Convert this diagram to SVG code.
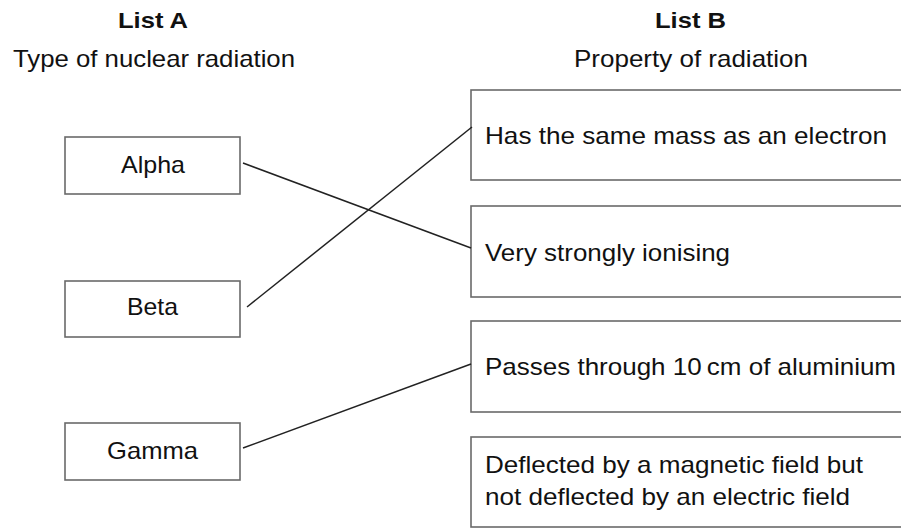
<svg xmlns="http://www.w3.org/2000/svg" width="901" height="528" viewBox="0 0 901 528">
<style>
.box{fill:#fff;stroke:#6a6a6a;stroke-width:1.6}
.t{font-family:"Liberation Sans",Arial,sans-serif;font-size:24px;fill:#111}
.h{font-family:"Liberation Sans",Arial,sans-serif;font-size:22px;font-weight:bold;fill:#111}
.c{stroke:#222;stroke-width:1.5;fill:none}
</style>
<rect width="901" height="528" fill="#fff"/>
<g id="headings">
<text class="h" x="118" y="28" textLength="70" lengthAdjust="spacingAndGlyphs">List A</text>
<text class="t" x="13" y="67" textLength="282" lengthAdjust="spacingAndGlyphs">Type of nuclear radiation</text>
<text class="h" x="655" y="28" textLength="71" lengthAdjust="spacingAndGlyphs">List B</text>
<text class="t" x="574" y="67" textLength="234" lengthAdjust="spacingAndGlyphs">Property of radiation</text>
</g>
<g id="alpha">
<rect class="box" x="65" y="137" width="175" height="57"/>
<text class="t" x="121" y="173" textLength="64" lengthAdjust="spacingAndGlyphs">Alpha</text>
</g>
<g id="beta">
<rect class="box" x="65" y="281" width="175" height="56"/>
<text class="t" x="127" y="315" textLength="51" lengthAdjust="spacingAndGlyphs">Beta</text>
</g>
<g id="gamma">
<rect class="box" x="65" y="423" width="175" height="57"/>
<text class="t" x="107" y="459" textLength="91" lengthAdjust="spacingAndGlyphs">Gamma</text>
</g>
<g id="prop1">
<rect class="box" x="471" y="90" width="450" height="90"/>
<text class="t" x="485" y="144" textLength="402" lengthAdjust="spacingAndGlyphs">Has the same mass as an electron</text>
</g>
<g id="prop2">
<rect class="box" x="471" y="206" width="450" height="91"/>
<text class="t" x="485" y="261" textLength="245" lengthAdjust="spacingAndGlyphs">Very strongly ionising</text>
</g>
<g id="prop3">
<rect class="box" x="471" y="321" width="450" height="91"/>
<text class="t" x="485" y="375" textLength="411" lengthAdjust="spacingAndGlyphs">Passes through 10&#8201;cm of aluminium</text>
</g>
<g id="prop4">
<rect class="box" x="471" y="437" width="450" height="90"/>
<text class="t" x="485" y="473" textLength="378" lengthAdjust="spacingAndGlyphs">Deflected by a magnetic field but</text>
<text class="t" x="485" y="505" textLength="365" lengthAdjust="spacingAndGlyphs">not deflected by an electric field</text>
</g>
<g id="connectors">
<line class="c" x1="243" y1="163" x2="471" y2="248"/>
<line class="c" x1="247" y1="307" x2="472" y2="127"/>
<line class="c" x1="243" y1="448" x2="471" y2="364"/>
</g>
</svg>
